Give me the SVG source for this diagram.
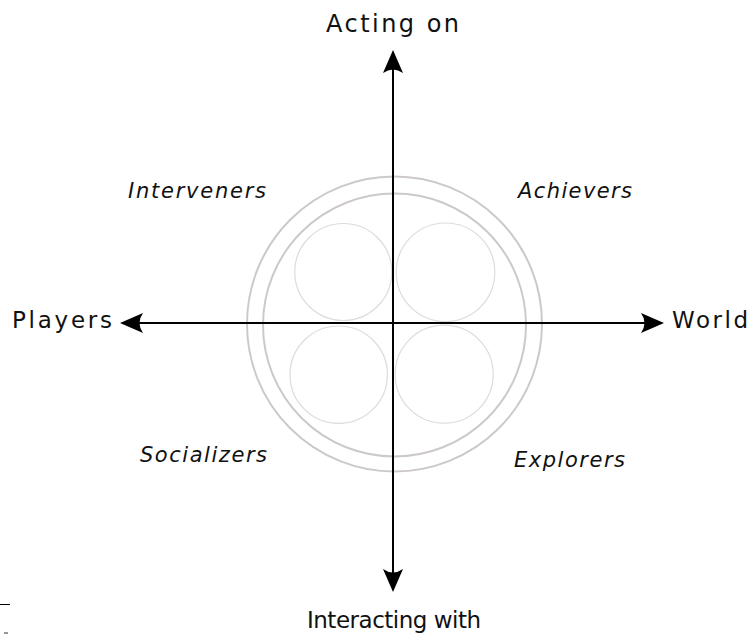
<svg xmlns="http://www.w3.org/2000/svg" width="754" height="634" viewBox="0 0 754 634">
<style>
.axis-label{font-family:"DejaVu Sans","Verdana",sans-serif;font-size:23px;fill:#111;}
.type-label{font-family:"DejaVu Sans","Verdana",sans-serif;font-size:21px;font-style:italic;fill:#111;}
.ring{fill:none;stroke:#cec9c9;stroke-width:2;}
.bubble{fill:none;stroke:#dcdcdc;stroke-width:1.2;}
.axis{fill:none;stroke:#000;stroke-width:2;}
</style>
<defs>
<marker id="arrow" markerUnits="userSpaceOnUse" viewBox="-24 -12 26 24" markerWidth="26" markerHeight="24" refX="-2" refY="0" orient="auto-start-reverse">
<path d="M0,0 L-23,-10 Q-16,0 -23,10 Z" fill="#000"/>
</marker>
</defs>
<rect width="754" height="634" fill="#fff"/>
<g id="rings">
<circle class="ring" cx="394.5" cy="324" r="147.5"/>
<circle class="ring" cx="394.5" cy="325" r="131.5"/>
</g>
<g id="bubbles">
<circle class="bubble" cx="343.3" cy="272" r="48.5"/>
<circle class="bubble" cx="445.5" cy="272.3" r="49.3"/>
<circle class="bubble" cx="338.7" cy="374.7" r="48.7"/>
<circle class="bubble" cx="444.2" cy="374.2" r="49"/>
</g>
<g id="connectors">
<line class="axis" x1="393" y1="52" x2="393" y2="590" marker-start="url(#arrow)" marker-end="url(#arrow)"/>
<line class="axis" x1="122" y1="323" x2="662" y2="323" marker-start="url(#arrow)" marker-end="url(#arrow)"/>
</g>
<g id="acting-on"><text class="axis-label" x="326" y="32" style="font-size:24px" textLength="133" lengthAdjust="spacing">Acting on</text></g>
<g id="interacting-with"><text class="axis-label" x="307" y="628" textLength="174" lengthAdjust="spacing">Interacting with</text></g>
<g id="players"><text class="axis-label" x="12" y="328" textLength="100" lengthAdjust="spacing">Players</text></g>
<g id="world"><text class="axis-label" x="672" y="328" textLength="76" lengthAdjust="spacing">World</text></g>
<g id="interveners"><text class="type-label" x="128" y="198" textLength="138" lengthAdjust="spacing">Interveners</text></g>
<g id="achievers"><text class="type-label" x="518" y="198" textLength="114" lengthAdjust="spacing">Achievers</text></g>
<g id="socializers"><text class="type-label" x="140" y="462" textLength="127" lengthAdjust="spacing">Socializers</text></g>
<g id="explorers"><text class="type-label" x="514" y="467" textLength="111" lengthAdjust="spacing">Explorers</text></g>
<line x1="0" y1="604.5" x2="10" y2="604.5" stroke="#000" stroke-width="1"/>
<rect x="4" y="632" width="4" height="2" fill="#999"/>
</svg>
